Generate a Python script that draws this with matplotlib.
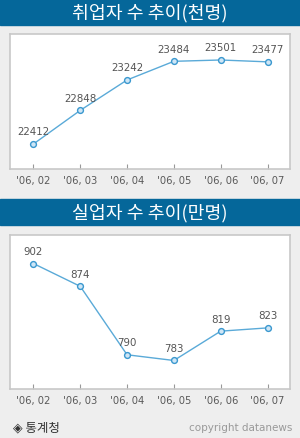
import matplotlib
matplotlib.use("Agg")
import matplotlib.pyplot as plt
from matplotlib.patches import Rectangle

plt.rcParams['font.family'] = ['Noto Sans CJK KR', 'DejaVu Sans']

months = ["'06, 02", "'06, 03", "'06, 04", "'06, 05", "'06, 06", "'06, 07"]
employed = [22412, 22848, 23242, 23484, 23501, 23477]
unemployed = [902, 874, 790, 783, 819, 823]
title1 = "취업자 수 추이(천명)"
title2 = "실업자 수 추이(만명)"
source = "◈ 통계청"
credit = "copyright datanews"

W, H = 300, 439
fig = plt.figure(figsize=(W / 100, H / 100), dpi=100, facecolor='#eeeeee')

BANNER = '#05679a'
LINE = '#5aaad8'
EDGE = '#3a98cf'
FILL = '#cfe6f6'
BORDER = '#c8c8c8'


def px_rect(x0, y0, x1, y1):
    return [x0 / W, 1 - y1 / H, (x1 - x0) / W, (y1 - y0) / H]


def banner(y0, y1, text):
    fig.patches.append(Rectangle((0, 1 - y1 / H), 1, (y1 - y0) / H,
                                 transform=fig.transFigure, color=BANNER, zorder=0))
    fig.text(0.5, 1 - ((y0 + y1) / 2) / H, text, color='white', fontsize=13.2,
             ha='center', va='center', fontweight='medium')


def panel(rect, values, ylim):
    ax = fig.add_axes(px_rect(*rect))
    ax.set_facecolor('white')
    x = list(range(len(values)))
    ax.plot(x, values, color=LINE, lw=1.0, marker='o', ms=4.2,
            mfc=FILL, mec=EDGE, mew=1.0, zorder=3)
    for xi, v in zip(x, values):
        ax.annotate(str(v), (xi, v), xytext=(0, 5.5), textcoords='offset points',
                    ha='center', va='bottom', fontsize=7.4, color='#555555',
                    family='DejaVu Sans')
    ax.set_xlim(-0.5, 5.48)
    ax.set_ylim(*ylim)
    ax.set_xticks(x)
    ax.set_xticklabels(months, family='DejaVu Sans', fontsize=7.2, color='#5a5a5a')
    ax.set_yticks([])
    ax.tick_params(axis='x', direction='in', length=3.6, width=0.8, color='#999999', pad=4)
    for s in ax.spines.values():
        s.set_color(BORDER)
        s.set_linewidth(1.2)
    return ax


banner(0, 26, title1)
panel((10, 35, 290, 170), employed, (22088, 23838))
banner(200, 226, title2)
panel((10, 236, 290, 390), unemployed, (748, 937))

fig.text(13 / W, 1 - 428 / H, source, fontsize=9, color='#333333', ha='left', va='center')
fig.text(292 / W, 1 - 428 / H, credit, fontsize=7.5, color='#999999', ha='right', va='center',
         family='DejaVu Sans')

fig.savefig('out.png', dpi=100, facecolor=fig.get_facecolor())
